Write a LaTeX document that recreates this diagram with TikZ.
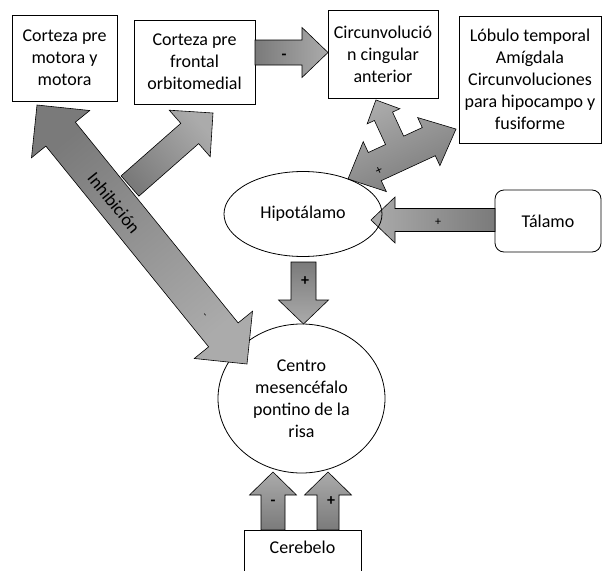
\documentclass[tikz,border=0pt]{standalone}
\usepackage{fontspec}
\setmainfont{Carlito}
\usetikzlibrary{shapes.geometric,calc}
\tikzset{
	caja/.style={rectangle, draw, line width=0.8pt, align=center, inner sep=2pt},
	ovalo/.style={ellipse, draw, line width=0.8pt, align=center, inner sep=0pt},
	flecha/.style={draw, line width=0.6pt, line join=miter, top color=black!33, bottom color=black!52},
	signo/.style={font=\bfseries\fontsize{16}{16}\selectfont, inner sep=0pt},
	signofino/.style={font=\fontsize{13}{13}\selectfont, inner sep=0pt}
}
% flecha de bloque: cola, punta, medio cuerpo, media punta, largo punta
\newcommand{\flecha}[5]{%
	\pgfmathanglebetweenpoints{\pgfpointanchor{#1}{center}}{\pgfpointanchor{#2}{center}}%
	\pgfmathsetmacro{\angflecha}{\pgfmathresult-90}%
	\coordinate (fb) at ($(#2)!#5!(#1)$);
	\path[flecha, shading angle=\angflecha] ($(#1)!#3!90:(#2)$) -- ($(fb)!#3!90:(#2)$)
		-- ($(fb)!#4!90:(#2)$) -- (#2) -- ($(fb)!#4!-90:(#2)$) -- ($(fb)!#3!-90:(#2)$)
		-- ($(#1)!#3!-90:(#2)$) -- cycle;
}
% flecha de bloque con dos puntas
\newcommand{\flechadoble}[5]{%
	\pgfmathanglebetweenpoints{\pgfpointanchor{#1}{center}}{\pgfpointanchor{#2}{center}}%
	\pgfmathsetmacro{\angflecha}{\pgfmathresult-90}%
	\coordinate (fa) at ($(#1)!#5!(#2)$);
	\coordinate (fb) at ($(#2)!#5!(#1)$);
	\path[flecha, shading angle=\angflecha] (#1) -- ($(fa)!#4!90:(#2)$) -- ($(fa)!#3!90:(#2)$)
		-- ($(fb)!#3!90:(#2)$) -- ($(fb)!#4!90:(#2)$) -- (#2) -- ($(fb)!#4!-90:(#2)$)
		-- ($(fb)!#3!-90:(#2)$) -- ($(fa)!#3!-90:(#2)$) -- ($(fa)!#4!-90:(#2)$) -- cycle;
}

\begin{document}
\begin{tikzpicture}[x=1pt, y=-1pt, font=\fontsize{18}{22}\selectfont]
	\useasboundingbox (0,0) rectangle (602,570);
	
	\node[caja, minimum width=105pt, minimum height=86pt] (premotora) at (64.5,58) {Corteza pre\\motora y\\motora};
	\node[caja, minimum width=121pt, minimum height=84pt] (orbito) at (194.5,62) {Corteza pre\\frontal\\orbitomedial};
	\node[caja, minimum width=110pt, minimum height=88pt] (cingular) at (383,54) {Circunvolució\\n cingular\\anterior};
	\node[caja, minimum width=142pt, minimum height=127pt] (lobulo) at (530,79.5) {Lóbulo temporal\\Amígdala\\Circunvoluciones\\para hipocampo y\\fusiforme};
	\node[caja, rounded corners=9pt, minimum width=106pt, minimum height=62pt] (talamo) at (548,221) {Tálamo};
	\node[ovalo, minimum width=167pt, minimum height=149pt] (centro) at (301.5,398.5) {Centro\\mesencéfalo\\pontino de la\\risa};
	\node[caja, anchor=north, minimum width=117pt, text height=13pt, text depth=18pt, inner ysep=10pt] (cerebelo) at (302.5,530) {Cerebelo};
	
	% extremos de las flechas
	\coordinate (orbitoSal) at (255,52.5);
	\coordinate (cingEnt) at (328,52.5);
	\coordinate (motoraEnt) at (37,105);
	\coordinate (centroInh) at (247,364);
	\coordinate (orbitoCola) at (130,186);
	\coordinate (orbitoEnt) at (213,113);
	\coordinate (talamoSal) at (495,220);
	\coordinate (hipoTal) at (371,220);
	\coordinate (hipoSal) at (303.5,262);
	\coordinate (centroHipo) at (303.5,324);
	\coordinate (cereSalA) at (273,530);
	\coordinate (centroCereA) at (273,472);
	\coordinate (cereSalB) at (328,530);
	\coordinate (centroCereB) at (328,472);
	
	\flecha{orbitoSal}{cingEnt}{12.5pt}{25pt}{26pt}
	\flechadoble{motoraEnt}{centroInh}{19pt}{37.5pt}{37.5pt}
	\flecha{orbitoCola}{orbitoEnt}{13.5pt}{31pt}{31pt}
	\flecha{talamoSal}{hipoTal}{11.5pt}{23pt}{24pt}
	\flecha{hipoSal}{centroHipo}{12.5pt}{25pt}{24pt}
	\flecha{cereSalA}{centroCereA}{12pt}{23.5pt}{23pt}
	\flecha{cereSalB}{centroCereB}{11pt}{23.5pt}{23pt}
	
	% flecha de tres puntas
	\begin{scope}[shift={(402,154)}, y=1pt, rotate=24.8]
		\path[flecha, shading angle=24.8] (59.5,0) -- (29.5,26.5) -- (29.5,15.5) -- (9,15.5) -- (9,42) -- (17,42)
			-- (-1,60) -- (-19,42) -- (-11,42) -- (-11,15.5) -- (-30,15.5) -- (-30,27.5) -- (-59.5,0)
			-- (-30,-27.5) -- (-30,-15.5) -- (29.5,-15.5) -- (29.5,-26.5) -- cycle;
		\node[signofino, rotate=24.8] (sigTres) at (-28,-6) {+};
	\end{scope}
	
	\node[ovalo, minimum width=158pt, minimum height=85pt] (hipo) at (303,214) {Hipotálamo};
	
	% signos
	\node[signo] (sigOrbito) at (284,57) {-};
	\node[signofino, font=\fontsize{12}{12}\selectfont] (sigTalamo) at (438,222) {+};
	\node[signo] (sigHipo) at (305,281) {+};
	\node[signo] (sigCereA) at (273,503) {-};
	\node[signo] (sigCereB) at (331,501) {+};
	\node[rotate=-51, inner sep=0pt] (inhib) at (114,203) {Inhibición};
	\node[signofino, font=\fontsize{10}{10}\selectfont, rotate=-51] (sigInh) at (204,316) {-};
\end{tikzpicture}
\end{document}
